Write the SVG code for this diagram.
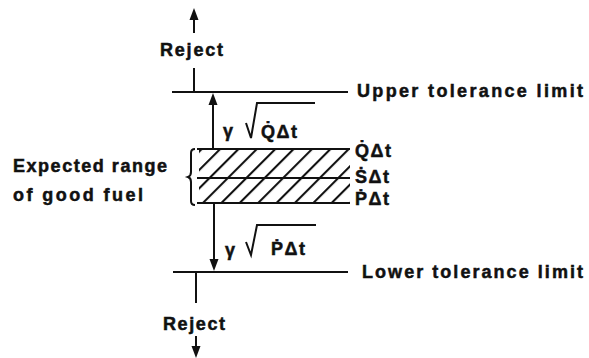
<svg xmlns="http://www.w3.org/2000/svg" width="589" height="358" viewBox="0 0 589 358">
<style>
text{font-family:"Liberation Sans",Arial,sans-serif;font-weight:bold;font-size:18px;fill:#111;stroke:#111;stroke-width:0.5}
.ln{stroke:#111;stroke-width:2;fill:none}
.hl{stroke:#111;stroke-width:2.2;fill:none}
.head{fill:#111;stroke:none}
</style>
<defs>
<pattern id="hatch" patternUnits="userSpaceOnUse" width="13" height="10" patternTransform="rotate(45)">
<line x1="1" y1="0" x2="1" y2="10" stroke="#111" stroke-width="2.2"/>
</pattern>
<clipPath id="c1"><rect x="199" y="149" width="151" height="55"/></clipPath>
</defs>
<rect width="589" height="358" fill="#fff"/>
<g id="connectors">
<line class="ln" x1="194" y1="33" x2="194" y2="16"/>
<polygon class="head" points="194,8 189.5,20 198.5,20"/>
<line class="ln" x1="194" y1="68" x2="194" y2="92"/>
<line class="ln" x1="213" y1="149" x2="213" y2="100"/>
<polygon class="head" points="213,93 208.5,105 217.5,105"/>
<line class="ln" x1="214" y1="203" x2="214" y2="262"/>
<polygon class="head" points="214,271 209.5,259 218.5,259"/>
<line class="ln" x1="196" y1="272" x2="196" y2="303"/>
<line class="ln" x1="196" y1="336" x2="196" y2="348"/>
<polygon class="head" points="196,358 191.5,346 200.5,346"/>
</g>
<g id="upper-limit">
<line class="hl" x1="172" y1="92" x2="348" y2="92"/>
<text x="357" y="97" textLength="226" lengthAdjust="spacing">Upper tolerance limit</text>
</g>
<g id="lower-limit">
<line class="hl" x1="173" y1="272" x2="348" y2="272"/>
<text x="362" y="278" textLength="221" lengthAdjust="spacing">Lower tolerance limit</text>
</g>
<g id="reject-top">
<text x="160" y="56" textLength="63" lengthAdjust="spacing">Reject</text>
</g>
<g id="reject-bottom">
<text x="163" y="330" textLength="62" lengthAdjust="spacing">Reject</text>
</g>
<g id="band">
<rect x="199" y="149" width="151" height="55" fill="url(#hatch)" clip-path="url(#c1)"/>
<line class="hl" x1="197" y1="149" x2="350" y2="149"/>
<line class="hl" x1="197" y1="178" x2="350" y2="178"/>
<line class="hl" x1="197" y1="203" x2="350" y2="203"/>
<path class="ln" d="M195,149 Q191,149 191,153 L191,172 Q191,176 188,177 Q191,178 191,182 L191,201 Q191,205 195,205"/>
<text x="355" y="157" letter-spacing="1.5">Q̇Δt</text>
<text x="355" y="183" letter-spacing="1.5">ṠΔt</text>
<text x="355" y="205" letter-spacing="1.5">ṖΔt</text>
</g>
<g id="expected">
<text x="13" y="172" textLength="154" lengthAdjust="spacing">Expected range</text>
<text x="13" y="201" textLength="130" lengthAdjust="spacing">of good fuel</text>
</g>
<g id="sigma-upper">
<text x="223" y="137" font-size="20">γ</text>
<path class="ln" d="M246,123 L251,138 L257,103 L315,103"/>
<text x="261" y="138" letter-spacing="1.5">Q̇Δt</text>
</g>
<g id="sigma-lower">
<text x="225" y="256" font-size="20">γ</text>
<path class="ln" d="M246,242 L251,255 L257,225 L316,225"/>
<text x="271" y="255" letter-spacing="1.5">ṖΔt</text>
</g>
</svg>
